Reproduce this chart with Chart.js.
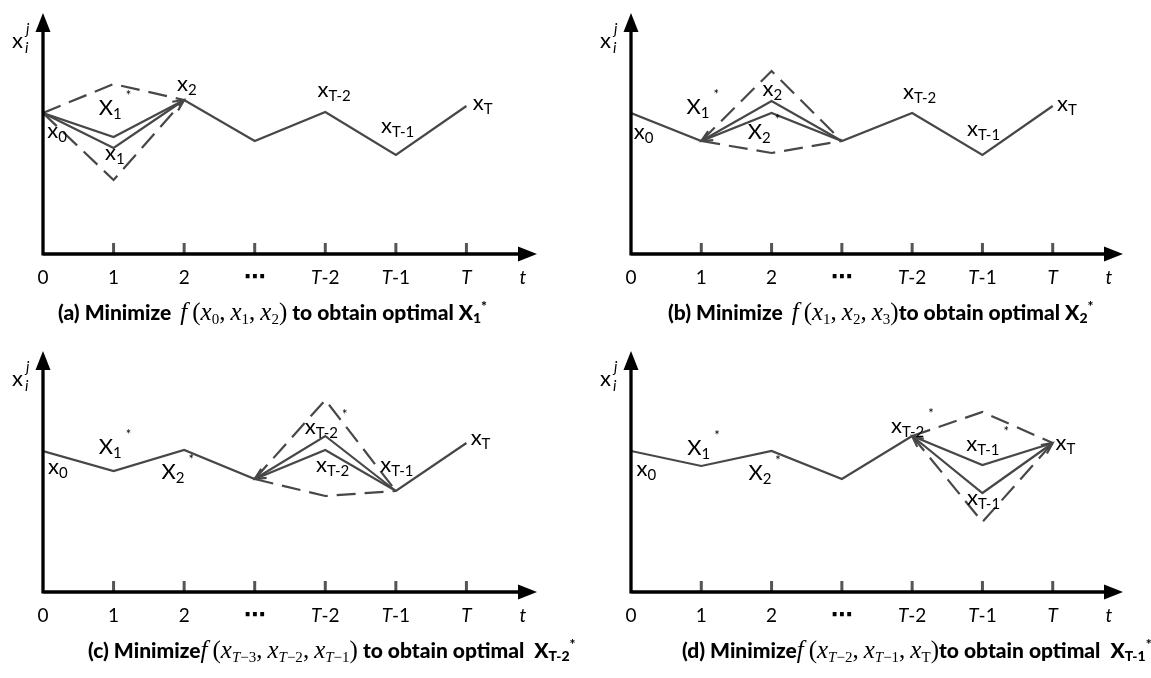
<!DOCTYPE html>
<html>
<head>
<meta charset="utf-8">
<script src="https://cdn.jsdelivr.net/npm/chart.js@4.4.1/dist/chart.umd.min.js"></script>
<style>
  body { margin: 0; background: #fff; width: 1151px; height: 678px; overflow: hidden; position: relative; }
  .panel { position: absolute; height: 340px; }
  .panel canvas { position: absolute; left: 0; top: 0; }
  .cap { position: absolute; top: 312px; transform: translateY(-50%); white-space: nowrap;
         font-family: Lato, "Open Sans", sans-serif; font-weight: bold; font-size: 21px; color: #000; line-height: 30px; }
  .cap .m { font-family: "Liberation Serif", "DejaVu Serif", serif; font-weight: normal; font-size: 25px; }
  .cap .m.gap { margin-left: 9px; }
  .cap .m i { font-style: italic; }
  .cap .m sub { font-size: 15px; font-style: normal; vertical-align: -4px; }
  .cap .m sub i { font-style: italic; }
  .cap b sub { font-size: 14px; vertical-align: -3px; }
  .cap b sup { font-size: 14px; vertical-align: 9px; }
</style>
</head>
<body>
<div class="panel" id="pa" style="left:0;top:0;width:575px"><canvas id="ca" width="575" height="340"></canvas></div>
<div class="panel" id="pb" style="left:588px;top:0;width:563px"><canvas id="cb" width="563" height="340"></canvas></div>
<div class="panel" id="pc" style="left:0;top:338px;width:575px"><canvas id="cc" width="575" height="340"></canvas></div>
<div class="panel" id="pd" style="left:588px;top:338px;width:563px"><canvas id="cd" width="563" height="340"></canvas></div>
<script>
// time steps and their tick labels
const steps = [0, 1, 2, 3, 4, 5, 6];
const tickLabels = ['0', '1', '2', '\u22EF', 'T-2', 'T-1', 'T'];

// (a) optimise x1
const aPath = [141, 117, 154, 113, 142, 99, 148];
const aOld = [141, 106, 154];   // t = 0..2
const aHigh = [141, 170, 154];
const aLow = [141, 74, 154];
// (b) optimise x2
const bPath = [141, 113, 141, 113, 141, 99, 148];
const bOld = [113, 153, 113];   // t = 1..3
const bHigh = [113, 183, 113];
const bLow = [113, 101, 113];
// (c) optimise x(T-2)
const cPath = [141, 121, 142, 113, 142, 101, 149];
const cOld = [113, 156, 101];   // t = 3..5
const cHigh = [113, 192, 101];
const cLow = [113, 96, 101];
// (d) optimise x(T-1)
const dPath = [141, 126, 141, 113, 156, 127, 149];
const dOld = [156, 99, 149];    // t = 4..6
const dHigh = [156, 180, 149];
const dLow = [156, 70, 149];

const LINE = '#474747';
const FONT = 'Lato, "Open Sans", sans-serif';

const pts = (vals, t0) => vals.map((v, i) => ({ x: t0 + i, y: v }));

// draw "main" with subscript and optional star
function label(ctx, px, py, main, sub, star) {
  ctx.font = '22px ' + FONT;
  ctx.fillText(main, px, py);
  let w = ctx.measureText(main).width;
  if (sub) {
    ctx.font = '15px ' + FONT;
    ctx.fillText(sub, px + w, py + 4);
    w += ctx.measureText(sub).width;
  }
  if (star) {
    ctx.font = '13px ' + FONT;
    ctx.fillText('*', px + w + 4, py - 15);
  }
}

function chevron(ctx, from, to) {
  const ang = Math.atan2(to.y - from.y, to.x - from.x);
  const len = 12;
  ctx.beginPath();
  ctx.moveTo(to.x - len * Math.cos(ang - 0.45), to.y - len * Math.sin(ang - 0.45));
  ctx.lineTo(to.x, to.y);
  ctx.lineTo(to.x - len * Math.cos(ang + 0.45), to.y - len * Math.sin(ang + 0.45));
  ctx.stroke();
}

function decor(panel) {
  return {
    id: 'decor',
    afterDatasetsDraw(chart) {
      const { ctx, chartArea: a, scales: { x, y } } = chart;
      const ox = x.getPixelForValue(0), oy = y.getPixelForValue(0);
      ctx.save();
      // arrowheads on the replaced segment
      ctx.strokeStyle = LINE; ctx.lineWidth = 2.2;
      const pOld = chart.getDatasetMeta(1).data;
      if (panel.arrows.includes('start')) chevron(ctx, pOld[1], pOld[0]);
      if (panel.arrows.includes('end')) chevron(ctx, pOld[1], pOld[2]);
      // tick marks
      ctx.strokeStyle = '#555'; ctx.lineWidth = 3;
      steps.slice(1).forEach(s => {
        const px = x.getPixelForValue(s);
        ctx.beginPath(); ctx.moveTo(px, oy); ctx.lineTo(px, oy - 11); ctx.stroke();
      });
      // axes with arrows
      const tipX = x.getPixelForValue(7), tipY = a.top;
      ctx.strokeStyle = '#000'; ctx.fillStyle = '#000'; ctx.lineWidth = 3.3;
      ctx.beginPath(); ctx.moveTo(ox, oy); ctx.lineTo(tipX - 14, oy);
      ctx.moveTo(ox, oy + 1.6); ctx.lineTo(ox, tipY + 14); ctx.stroke();
      ctx.beginPath(); ctx.moveTo(tipX, oy); ctx.lineTo(tipX - 19, oy - 7.5); ctx.lineTo(tipX - 19, oy + 7.5); ctx.fill();
      ctx.beginPath(); ctx.moveTo(ox, tipY); ctx.lineTo(ox - 7.5, tipY + 19); ctx.lineTo(ox + 7.5, tipY + 19); ctx.fill();
      // tick labels
      ctx.textBaseline = 'middle';
      const ly = oy + 24;
      tickLabels.forEach((t, i) => {
        const px = x.getPixelForValue(steps[i]);
        if (t.startsWith('T')) {
          ctx.font = 'italic 19px ' + FONT;
          const w1 = ctx.measureText('T').width;
          ctx.font = '19px ' + FONT;
          const w2 = ctx.measureText(t.slice(1)).width;
          const sx = px - (w1 + w2) / 2;
          ctx.font = 'italic 19px ' + FONT; ctx.textAlign = 'left';
          ctx.fillText('T', sx, ly);
          ctx.font = '19px ' + FONT;
          ctx.fillText(t.slice(1), sx + w1, ly);
        } else if (t === '\u22EF') {
          ctx.font = 'bold 22px "DejaVu Sans"'; ctx.textAlign = 'center';
          ctx.fillText(t, px, ly);
        } else {
          ctx.font = '19px ' + FONT; ctx.textAlign = 'center';
          ctx.fillText(t, px, ly);
        }
      });
      ctx.font = 'italic 19px ' + FONT; ctx.textAlign = 'center';
      ctx.fillText('t', x.getPixelForValue(6.8), ly);
      // y axis title x_i^j
      ctx.textBaseline = 'alphabetic'; ctx.textAlign = 'left';
      ctx.font = '22px ' + FONT;
      ctx.fillText('x', ox - 31, tipY + 35);
      ctx.font = 'italic 15px ' + FONT;
      ctx.fillText('j', ox - 17, tipY + 21);
      ctx.fillText('i', ox - 18, tipY + 40);
      // point labels
      panel.labels.forEach(l => {
        label(ctx, x.getPixelForValue(l[0]), y.getPixelForValue(l[1]), l[2], l[3], l[4]);
      });
      ctx.restore();
    }
  };
}

const panels = [
  { canvas: 'ca', host: 'pa', pad: 38, capLeft: 58, path: aPath, old: aOld, high: aHigh, low: aLow, t0: 0, arrows: ['end'],
    labels: [[0.06, 116, 'x', '0'], [0.79, 139, 'X', '1', true], [0.88, 94, 'x', '1'], [1.9, 163, 'x', '2'],
             [3.89, 157, 'x', 'T-2'], [4.79, 121, 'x', 'T-1'], [6.09, 144, 'x', 'T']],
    cap: '<b>(a) Minimize</b><span class="m gap"><i>f</i>&thinsp;(<i>x</i><sub>0</sub>,&thinsp;<i>x</i><sub>1</sub>,&thinsp;<i>x</i><sub>2</sub>)</span><b> to obtain optimal X<sub>1</sub><sup>*</sup></b>' },
  { canvas: 'cb', host: 'pb', pad: 28, capLeft: 80, path: bPath, old: bOld, high: bHigh, low: bLow, t0: 1, arrows: ['start'],
    labels: [[0.04, 115, 'x', '0'], [0.79, 140, 'X', '1', true], [1.87, 158, 'x', '2'], [1.66, 115, 'X', '2', true],
             [3.87, 155, 'x', 'T-2'], [4.78, 118, 'x', 'T-1'], [6.06, 143, 'x', 'T']],
    cap: '<b>(b) Minimize</b><span class="m gap"><i>f</i>&thinsp;(<i>x</i><sub>1</sub>,&thinsp;<i>x</i><sub>2</sub>,&thinsp;<i>x</i><sub>3</sub>)</span><b>to obtain optimal X<sub>2</sub><sup>*</sup></b>' },
  { canvas: 'cc', host: 'pc', pad: 38, capLeft: 88, path: cPath, old: cOld, high: cHigh, low: cLow, t0: 3, arrows: ['start'],
    labels: [[0.07, 118, 'x', '0'], [0.79, 138, 'X', '1', true], [1.68, 113, 'X', '2', true], [3.71, 158, 'x', 'T-2', true],
             [3.87, 120, 'x', 'T-2'], [4.78, 120, 'x', 'T-1'], [6.06, 147, 'x', 'T']],
    cap: '<b>(c) Minimize</b><span class="m"><i>f</i>&thinsp;(<i>x</i><sub><i>T</i>\u22123</sub>,&thinsp;<i>x</i><sub><i>T</i>\u22122</sub>,&thinsp;<i>x</i><sub><i>T</i>\u22121</sub>)</span><b> to obtain optimal&nbsp; X<sub>T-2</sub><sup>*</sup></b>' },
  { canvas: 'cd', host: 'pd', pad: 28, capLeft: 94, path: dPath, old: dOld, high: dHigh, low: dLow, t0: 4, arrows: ['start', 'end'],
    labels: [[0.08, 116, 'x', '0'], [0.8, 137, 'X', '1', true], [1.67, 112, 'X', '2', true], [3.7, 159, 'x', 'T-2', true],
             [4.77, 141, 'x', 'T-1', true], [4.78, 87, 'x', 'T-1'], [6.04, 142, 'x', 'T']],
    cap: '<b>(d) Minimize</b><span class="m"><i>f</i>&thinsp;(<i>x</i><sub><i>T</i>\u22122</sub>,&thinsp;<i>x</i><sub><i>T</i>\u22121</sub>,&thinsp;<i>x<sub>T</sub></i>)</span><b>to obtain optimal&nbsp; X<sub>T-1</sub><sup>*</sup></b>' }
];

panels.forEach(p => {
  const dash = { borderColor: LINE, borderWidth: 2.2, borderDash: [19, 9], pointRadius: 0, fill: false };
  new Chart(document.getElementById(p.canvas), {
    type: 'line',
    data: {
      datasets: [
        { data: pts(p.path, 0), borderColor: LINE, borderWidth: 2.2, pointRadius: 0, fill: false },
        { data: pts(p.old, p.t0), borderColor: LINE, borderWidth: 2.2, pointRadius: 0, fill: false },
        Object.assign({ data: pts(p.high, p.t0) }, dash),
        Object.assign({ data: pts(p.low, p.t0) }, dash)
      ]
    },
    options: {
      responsive: false,
      animation: false,
      layout: { padding: { left: 43, top: 13, right: p.pad, bottom: 86 } },
      scales: {
        x: { type: 'linear', min: 0, max: 7, display: false },
        y: { min: 0, max: 241, display: false }
      },
      plugins: { legend: { display: false }, tooltip: { enabled: false } },
      elements: { line: { tension: 0 } }
    },
    plugins: [decor(p)]
  });
  const host = document.getElementById(p.host);
  const cap = document.createElement('div');
  cap.className = 'cap';
  cap.innerHTML = p.cap;
  cap.style.left = p.capLeft + 'px';
  host.appendChild(cap);
});
</script>
</body>
</html>
